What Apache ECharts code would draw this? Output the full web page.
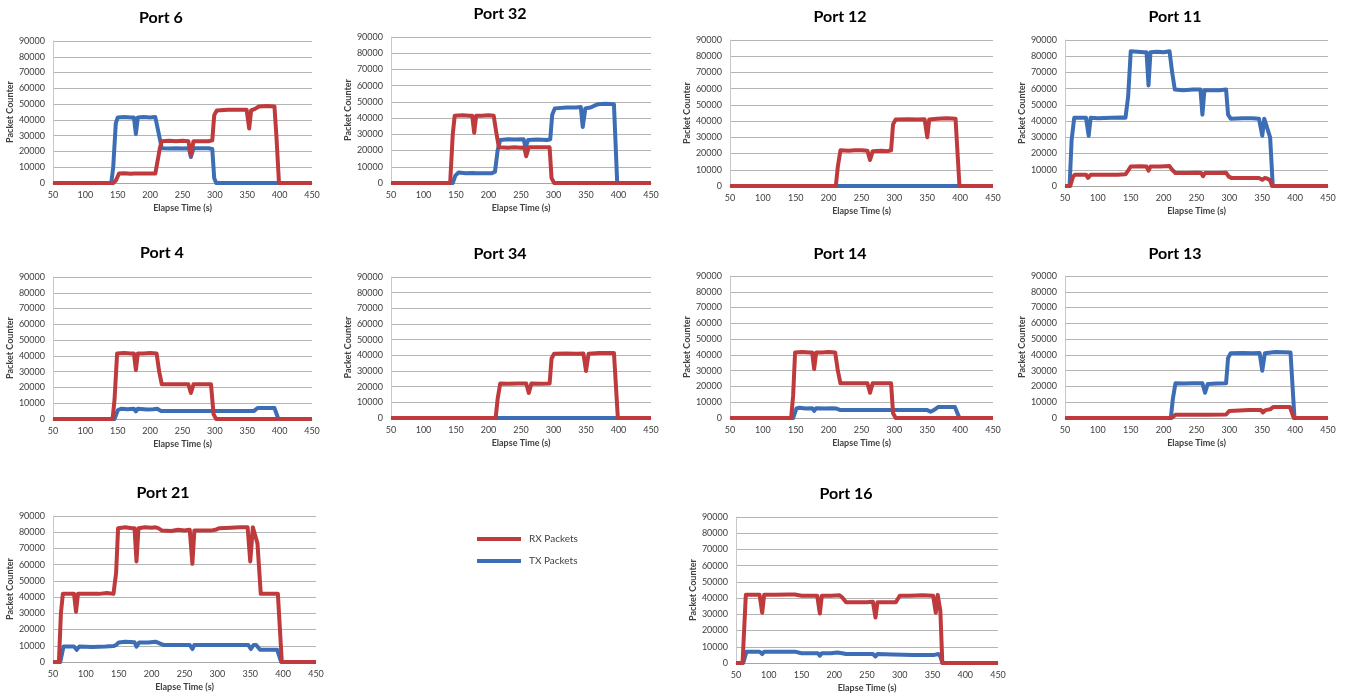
<!DOCTYPE html>
<html>
<head>
<meta charset="utf-8">
<title>Port Packet Counters</title>
<script src="https://cdn.jsdelivr.net/npm/echarts@6/dist/echarts.min.js"></script>
<style>
  html, body { margin: 0; padding: 0; background: #ffffff; }
  #chart { width: 1345px; height: 696px; }
</style>
</head>
<body>
<div id="chart"></div>
<script>
// Packet counters per port, as [elapsed seconds, packets] samples.
const portNames = ['Port 6', 'Port 32', 'Port 12', 'Port 11', 'Port 4', 'Port 34', 'Port 14', 'Port 13', 'Port 21', 'Port 16'];
const seriesNames = ['RX Packets', 'TX Packets'];
const timeTicks = { min: 50, max: 450, interval: 50 };
const packetTicks = { min: 0, max: 90000, interval: 10000 };

const port6Rx = [[50,0],[143,0],[147,1500],[152,6000],[160,6200],[170,5800],[175,6000],[178,4800],[181,6000],[190,6000],[200,6000],[208,6000],[211,7000],[215,22000],[218,26500],[230,26800],[240,26500],[250,26800],[259,26500],[263,17500],[267,26500],[280,26500],[290,26500],[296,27000],[299,43000],[303,46000],[320,46500],[340,46500],[349,46500],[353,34500],[356,46000],[362,47000],[368,48500],[380,48800],[392,48500],[395,30000],[399,0],[450,0]];
const port6Tx = [[50,0],[140,0],[143,10000],[147,38000],[150,41500],[160,41800],[170,41500],[175,41500],[178,31000],[181,41500],[190,41800],[200,41500],[208,41800],[211,41500],[215,28000],[218,22000],[230,21800],[240,22000],[250,21800],[260,22000],[263,16500],[267,22000],[280,22000],[290,22000],[296,21500],[299,3000],[302,0],[450,0]];

const port32Rx = [[50,0],[141,0],[145,30000],[148,41500],[160,41800],[170,41500],[175,41500],[178,31000],[181,41500],[190,41500],[200,41800],[208,41500],[212,31000],[216,22000],[230,21800],[240,22000],[250,21800],[255,22000],[258,16500],[262,22000],[275,22000],[285,22000],[294,22000],[297,3000],[301,0],[450,0]];
const port32Tx = [[50,0],[145,0],[149,4500],[154,6500],[165,6000],[175,6200],[178,5000],[181,6000],[195,6000],[205,6000],[210,7000],[214,20000],[218,26500],[230,27000],[240,26800],[254,27000],[257,22000],[261,26500],[275,26800],[290,26500],[295,27000],[298,42000],[302,46000],[320,46500],[335,46500],[342,46800],[345,34500],[349,46000],[357,46500],[362,47500],[368,48500],[380,48800],[393,48500],[398,0],[450,0]];

const port12Rx = [[50,0],[211,0],[214,12000],[218,22000],[230,21800],[240,22000],[250,22000],[259,21800],[263,16000],[267,21500],[280,21800],[290,21500],[295,22000],[298,38000],[302,41000],[320,41200],[335,41000],[346,41200],[350,30000],[353,41000],[365,41500],[380,41800],[393,41500],[399,0],[450,0]];
const port12Tx = [[50,0],[450,0]];

const port11Rx = [[50,0],[58,0],[62,5500],[65,7000],[82,7000],[85,5000],[89,7000],[110,7000],[130,7000],[142,7200],[146,9500],[150,12000],[165,12200],[174,12000],[177,9500],[180,12000],[195,12000],[209,12300],[213,10000],[218,8000],[235,8000],[250,8200],[257,8000],[260,6000],[263,8000],[280,8000],[295,8200],[299,5800],[303,5000],[325,5000],[345,5000],[350,3800],[354,5000],[358,4500],[362,3500],[365,0],[450,0]];
const port11Tx = [[50,0],[57,0],[60,28000],[64,42000],[75,42000],[82,42000],[86,31000],[89,42000],[100,41800],[120,42000],[135,42200],[142,42000],[146,55000],[150,83000],[160,82800],[170,82500],[174,82500],[177,62000],[180,82500],[190,82800],[200,82500],[209,83000],[213,70000],[217,59500],[230,59000],[245,59500],[256,59500],[259,44000],[262,59000],[275,59000],[285,59000],[295,59500],[298,44000],[302,41500],[320,41800],[335,41800],[345,41500],[350,31000],[353,41500],[356,41500],[362,30000],[366,0],[450,0]];

const port4Rx = [[50,0],[142,0],[145,12000],[149,41500],[160,41800],[170,41500],[175,41500],[178,31000],[181,41500],[190,41500],[200,41800],[210,41500],[214,30000],[218,22000],[230,22000],[245,22000],[259,22000],[263,16500],[267,22000],[280,22000],[294,22000],[298,3000],[302,0],[450,0]];
const port4Tx = [[50,0],[145,0],[150,5500],[155,6500],[165,6200],[175,6500],[178,4800],[181,6500],[195,6000],[205,6200],[211,6500],[217,5000],[240,5000],[260,5000],[263,4000],[267,5000],[300,5000],[330,5000],[352,5000],[355,4000],[360,5000],[366,7000],[380,7000],[392,7000],[398,0],[450,0]];

const port34Rx = [[50,0],[211,0],[214,12000],[218,22000],[230,21800],[245,22000],[258,22000],[262,16000],[266,22000],[280,21800],[294,22000],[297,38000],[301,41000],[320,41200],[335,41000],[346,41200],[350,30000],[354,41000],[370,41500],[393,41500],[399,0],[450,0]];
const port34Tx = [[50,0],[450,0]];

const port14Rx = [[50,0],[143,0],[146,14000],[149,41500],[160,41800],[170,41500],[175,41500],[178,31000],[181,41500],[190,41500],[200,41800],[210,41500],[214,30000],[218,22000],[230,22000],[245,22000],[259,22000],[263,16000],[267,22000],[280,22000],[295,22000],[298,3000],[302,0],[450,0]];
const port14Tx = [[50,0],[146,0],[151,6000],[156,6500],[165,6000],[175,6200],[178,4500],[181,6200],[195,6000],[205,6200],[212,6000],[218,5000],[240,5000],[260,5000],[263,4000],[267,5000],[300,5000],[330,5000],[350,5000],[355,4000],[360,5000],[367,7000],[380,7000],[392,7000],[399,0],[450,0]];

const port13Rx = [[50,0],[212,0],[218,2000],[240,2000],[260,2000],[263,1000],[267,2000],[295,2200],[300,4500],[303,5000],[330,5000],[348,5000],[351,3500],[355,5000],[362,5500],[367,7000],[380,7000],[392,7000],[398,0],[450,0]];
const port13Tx = [[50,0],[211,0],[214,12000],[218,22000],[230,21800],[245,22000],[259,22000],[263,16000],[267,21500],[280,21800],[295,22000],[298,38000],[302,41000],[320,41200],[335,41000],[346,41200],[350,30000],[354,41000],[370,41800],[393,41500],[399,0],[450,0]];

const port21Rx = [[50,0],[59,0],[62,30000],[65,42000],[75,42000],[82,42000],[85,31000],[88,42000],[100,42000],[120,42000],[132,42500],[142,42000],[146,55000],[149,82500],[160,83000],[170,82500],[174,82500],[177,62000],[180,82500],[190,83000],[200,82800],[206,83000],[210,82500],[216,81000],[230,80800],[240,81500],[250,81000],[258,81500],[262,60500],[265,81000],[280,81000],[290,81000],[297,81500],[303,82500],[320,82800],[335,83000],[346,83000],[350,62000],[354,83000],[357,83000],[361,73000],[366,42000],[380,42000],[392,42000],[398,0],[450,0]];
const port21Tx = [[50,0],[61,0],[66,9500],[75,9500],[82,9500],[86,7500],[90,9500],[110,9200],[130,9500],[142,9800],[146,10500],[150,12000],[160,12500],[174,12200],[177,9500],[181,12000],[195,12000],[206,12500],[212,11500],[218,10500],[240,10500],[258,10500],[262,8000],[265,10500],[290,10500],[320,10500],[347,10500],[351,8000],[355,10500],[359,10500],[365,7500],[380,7500],[391,7500],[397,0],[450,0]];

const port16Rx = [[50,0],[60,0],[65,42000],[80,42000],[86,42000],[90,31000],[93,42000],[110,42000],[130,42300],[140,42200],[150,41500],[165,41500],[174,41500],[178,30500],[181,41500],[195,41500],[208,41800],[212,40500],[218,37500],[235,37500],[250,37500],[259,37800],[263,28000],[266,37500],[280,37500],[294,37500],[300,41500],[315,41500],[335,41800],[351,41500],[355,31000],[358,42000],[362,32000],[365,0],[450,0]];
const port16Tx = [[50,0],[61,0],[66,7000],[80,7000],[86,7000],[90,5500],[93,7000],[120,7000],[140,7000],[150,6000],[165,6000],[175,6000],[178,4500],[181,6000],[195,6000],[205,6500],[212,6000],[218,5500],[240,5500],[259,5500],[263,4000],[266,5500],[290,5200],[320,5000],[353,5000],[356,4000],[359,5500],[362,4000],[365,0],[450,0]];

const rxByPort = [port6Rx, port32Rx, port12Rx, port11Rx, port4Rx, port34Rx, port14Rx, port13Rx, port21Rx, port16Rx];
const txByPort = [port6Tx, port32Tx, port12Tx, port11Tx, port4Tx, port34Tx, port14Tx, port13Tx, port21Tx, port16Tx];

// Panel placement: plot rectangle [left, top, width, height] and title [centerX, top].
const panelRects = [
  [53, 41, 259, 142], [391, 37, 260, 146], [730, 40, 263, 146], [1065, 40, 263, 146],
  [53, 277, 259, 142], [391, 277, 260, 141], [730, 276, 263, 142], [1065, 276, 263, 142],
  [53, 516, 263, 146], [736, 517, 262, 146]
];
const titleSpots = [
  [161, 10], [500, 6], [840, 9], [1175, 9],
  [162, 245], [500, 246], [840, 246], [1175, 246],
  [163, 485], [846, 486]
];

const FONT = 'Lato, "Open Sans", sans-serif';
const RX_COLOR = '#be3a3c';
const TX_COLOR = '#3d6db5';
const LABEL_COLOR = '#404040';

const grids = [], xAxes = [], yAxes = [], titles = [], series = [];

portNames.forEach((name, i) => {
  const r = panelRects[i];
  grids.push({ left: r[0], top: r[1], width: r[2], height: r[3], containLabel: false });
  titles.push({
    text: name, left: titleSpots[i][0], top: titleSpots[i][1], padding: 0,
    textAlign: 'center',
    textStyle: { fontFamily: FONT, fontSize: 16, fontWeight: 'bold', color: '#000000' }
  });
  xAxes.push({
    gridIndex: i, type: 'value', min: timeTicks.min, max: timeTicks.max, interval: timeTicks.interval,
    name: 'Elapse Time (s)', nameLocation: 'middle', nameGap: 21,
    nameTextStyle: { fontFamily: FONT, fontSize: 9, fontWeight: 'bold', color: LABEL_COLOR },
    axisLine: { show: true, lineStyle: { color: '#a6a6a6', width: 1 } },
    axisTick: { show: false },
    axisLabel: { fontFamily: FONT, fontSize: 9, color: LABEL_COLOR, margin: 8, formatter: v => String(v) },
    splitLine: { show: false }
  });
  yAxes.push({
    gridIndex: i, type: 'value', min: packetTicks.min, max: packetTicks.max, interval: packetTicks.interval,
    name: 'Packet Counter', nameLocation: 'middle', nameGap: 35,
    nameTextStyle: { fontFamily: FONT, fontSize: 9, fontWeight: 'bold', color: LABEL_COLOR },
    axisLine: { show: true, lineStyle: { color: '#c8c8c8', width: 1 } },
    axisTick: { show: false },
    axisLabel: { fontFamily: FONT, fontSize: 9, color: LABEL_COLOR, margin: 8, formatter: v => String(v) },
    splitLine: { show: true, lineStyle: { color: '#b4b4b4', width: 1 } }
  });
  // TX first so RX is painted over it where both sit at zero.
  series.push({
    name: seriesNames[1], type: 'line', xAxisIndex: i, yAxisIndex: i,
    data: txByPort[i], symbol: 'none', clip: false, animation: false,
    lineStyle: { color: TX_COLOR, width: 4, join: 'round' }, itemStyle: { color: TX_COLOR }
  });
  series.push({
    name: seriesNames[0], type: 'line', xAxisIndex: i, yAxisIndex: i,
    data: rxByPort[i], symbol: 'none', clip: false, animation: false,
    lineStyle: { color: RX_COLOR, width: 4, join: 'round' }, itemStyle: { color: RX_COLOR }
  });
});

const chart = echarts.init(document.getElementById('chart'), null, { renderer: 'canvas' });
chart.setOption({
  backgroundColor: '#ffffff',
  animation: false,
  title: titles,
  grid: grids,
  xAxis: xAxes,
  yAxis: yAxes,
  legend: {
    data: seriesNames,
    orient: 'vertical', left: 477, top: 533, padding: 0,
    icon: 'rect', itemWidth: 44, itemHeight: 4, itemGap: 10,
    selectedMode: false,
    textStyle: { fontFamily: FONT, fontSize: 10, color: LABEL_COLOR, lineHeight: 12, padding: [0, 0, 0, 3] }
  },
  series: series
});
</script>
</body>
</html>
